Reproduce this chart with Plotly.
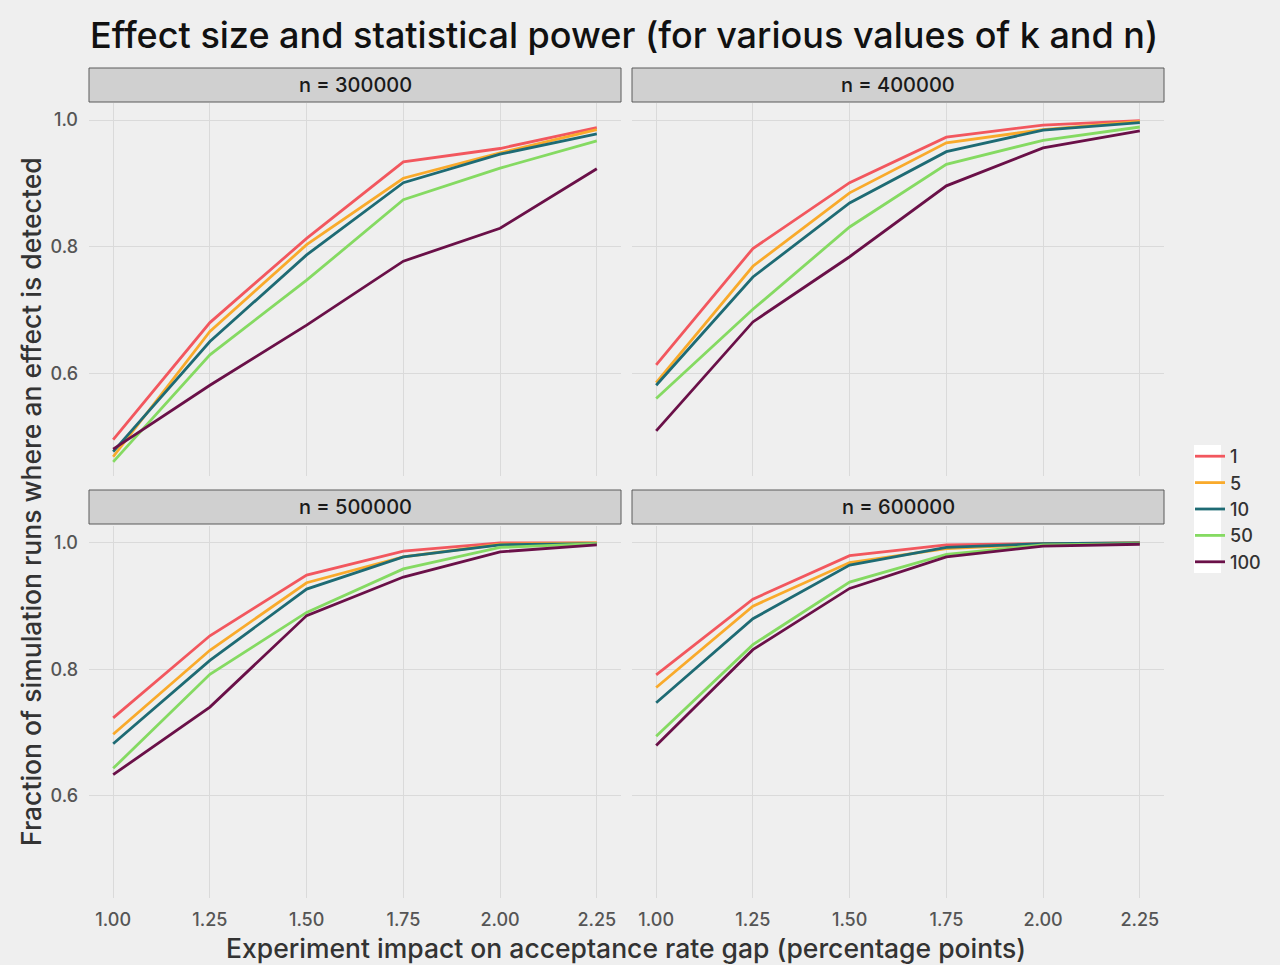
import plotly.graph_objects as go
from plotly.subplots import make_subplots

x_vals = [1.00, 1.25, 1.50, 1.75, 2.00, 2.25]
k_labels = ["1", "5", "10", "50", "100"]
colors = ["#F2575E", "#F9AA2B", "#1E6B74", "#85DA62", "#6A1048"]
panel_titles = ["n = 300000", "n = 400000", "n = 500000", "n = 600000"]

power_n300000 = [
    [0.495, 0.680, 0.813, 0.934, 0.955, 0.988],
    [0.468, 0.666, 0.803, 0.908, 0.948, 0.985],
    [0.476, 0.650, 0.787, 0.901, 0.946, 0.978],
    [0.460, 0.629, 0.747, 0.874, 0.924, 0.967],
    [0.480, 0.581, 0.676, 0.777, 0.829, 0.923],
]
power_n400000 = [
    [0.613, 0.797, 0.901, 0.973, 0.992, 0.999],
    [0.585, 0.769, 0.885, 0.964, 0.985, 0.998],
    [0.581, 0.752, 0.869, 0.950, 0.984, 0.996],
    [0.560, 0.701, 0.831, 0.930, 0.968, 0.989],
    [0.509, 0.681, 0.784, 0.896, 0.956, 0.983],
]
power_n500000 = [
    [0.723, 0.853, 0.949, 0.987, 1.000, 1.000],
    [0.697, 0.830, 0.937, 0.978, 0.998, 1.000],
    [0.682, 0.814, 0.927, 0.978, 0.997, 0.999],
    [0.643, 0.792, 0.890, 0.959, 0.993, 0.999],
    [0.633, 0.740, 0.885, 0.946, 0.986, 0.997],
]
power_n600000 = [
    [0.791, 0.911, 0.980, 0.997, 0.999, 1.000],
    [0.771, 0.900, 0.969, 0.991, 0.998, 1.000],
    [0.747, 0.880, 0.965, 0.993, 0.999, 1.000],
    [0.694, 0.839, 0.938, 0.982, 0.997, 0.999],
    [0.679, 0.831, 0.928, 0.978, 0.995, 0.998],
]
panels = [power_n300000, power_n400000, power_n500000, power_n600000]

W, H = 1280, 965
FONT = "Inter"

def fx(px):
    return px / W

def fy(py):
    return 1 - py / H

fig = make_subplots(rows=2, cols=2)

positions = [(1, 1), (1, 2), (2, 1), (2, 2)]
for p, (r, c) in enumerate(positions):
    for i, k in enumerate(k_labels):
        fig.add_trace(
            go.Scatter(
                x=x_vals, y=panels[p][i], mode="lines",
                line=dict(color=colors[i], width=2.8),
                name=k, legendgroup=k, showlegend=(p == 0),
            ),
            row=r, col=c,
        )

xdom = [[fx(89), fx(621)], [fx(632), fx(1164)]]
ydom = [[fy(476), fy(103)], [fy(898), fy(526)]]

xr = [1.0 - 0.0625, 2.25 + 0.0625]
yr = [0.4376, 1.0269]

axis_common = dict(
    showgrid=True, gridcolor="#DADADA", gridwidth=1, zeroline=False,
    showline=False, ticks="",
    tickfont=dict(family=FONT, size=18, color="#555555", weight=500),
)

for p, (r, c) in enumerate(positions):
    fig.update_xaxes(
        domain=xdom[c - 1], range=xr, tickvals=x_vals,
        ticktext=["1.00", "1.25", "1.50", "1.75", "2.00", "2.25"],
        showticklabels=(r == 2), ticklabelstandoff=9, row=r, col=c, **axis_common,
    )
    fig.update_yaxes(
        domain=ydom[r - 1], range=yr, tickvals=[0.6, 0.8, 1.0],
        ticktext=["0.6", "0.8", "1.0"],
        showticklabels=(c == 1), ticklabelstandoff=10, row=r, col=c, **axis_common,
    )

# Strip headers
strips = [
    (89, 621, 68, 102, panel_titles[0]),
    (632, 1164, 68, 102, panel_titles[1]),
    (89, 621, 490, 524, panel_titles[2]),
    (632, 1164, 490, 524, panel_titles[3]),
]
for x0, x1, y0, y1, t in strips:
    fig.add_shape(
        type="rect", xref="paper", yref="paper",
        x0=fx(x0), x1=fx(x1), y0=fy(y1), y1=fy(y0),
        fillcolor="#D0D0D0", line=dict(color="#5A5A5A", width=1),
        layer="below",
    )
    fig.add_annotation(
        x=fx((x0 + x1) / 2), y=fy((y0 + y1) / 2), xref="paper", yref="paper",
        text=t, showarrow=False, xanchor="center", yanchor="middle",
        font=dict(family=FONT, size=20, color="#1A1A1A", weight=500),
    )

# Legend key background
fig.add_shape(
    type="rect", xref="paper", yref="paper",
    x0=fx(1194), x1=fx(1221), y0=fy(573), y1=fy(445),
    fillcolor="#FFFFFF", line=dict(width=0), layer="below",
)

# Title
fig.add_annotation(
    x=fx(624), y=fy(35), xref="paper", yref="paper",
    text="Effect size and statistical power (for various values of k and n)",
    showarrow=False, xanchor="center", yanchor="middle",
    font=dict(family=FONT, size=36, color="#111111", weight=500),
)
# Axis titles
fig.add_annotation(
    x=fx(626), y=fy(948), xref="paper", yref="paper",
    text="Experiment impact on acceptance rate gap (percentage points)",
    showarrow=False, xanchor="center", yanchor="middle",
    font=dict(family=FONT, size=26.5, color="#333333", weight=500),
)
fig.add_annotation(
    x=fx(31), y=fy(502), xref="paper", yref="paper",
    text="Fraction of simulation runs where an effect is detected",
    showarrow=False, xanchor="center", yanchor="middle", textangle=-90,
    font=dict(family=FONT, size=26.5, color="#333333", weight=500),
)

fig.update_layout(
    width=W, height=H,
    margin=dict(l=0, r=0, t=0, b=0),
    paper_bgcolor="#EFEFEF", plot_bgcolor="#EFEFEF",
    font=dict(family=FONT, color="#333333"),
    legend=dict(
        x=fx(1190), y=fy(509), xanchor="left", yanchor="middle",
        bgcolor="rgba(0,0,0,0)",
        font=dict(family=FONT, size=18, color="#333333", weight=500),
        tracegroupgap=0, itemwidth=30,
    ),
)

fig.write_html("out.html")
